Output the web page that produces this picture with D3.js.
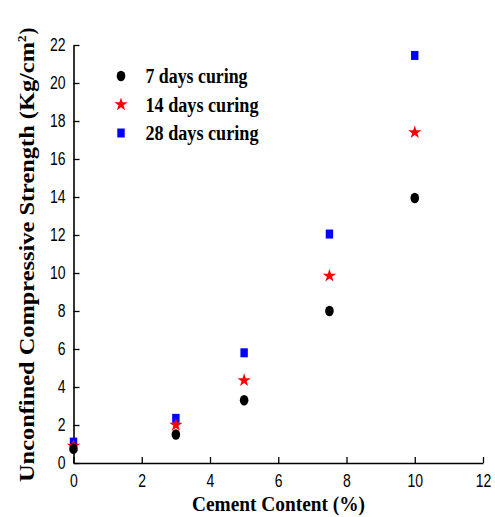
<!DOCTYPE html>
<html><head><meta charset="utf-8">
<script src="https://cdn.jsdelivr.net/npm/d3@7"></script>
<style>body{margin:0;background:#fff}svg{display:block}</style>
</head><body>
<svg id="c" width="495" height="517"></svg>
<script>
const cement = [0, 3, 5, 7.5, 10];
const days7 = [0.75, 1.5, 3.3, 8.0, 13.95];
const days14 = [0.9, 2.0, 4.35, 9.85, 17.4];
const days28 = [1.1, 2.35, 5.8, 12.05, 21.45];
const seriesNames = ["7 days curing", "14 days curing", "28 days curing"];
const xTicks = [0, 2, 4, 6, 8, 10, 12];
const yTicks = [0, 2, 4, 6, 8, 10, 12, 14, 16, 18, 20, 22];

const svg = d3.select("#c");
const x = d3.scaleLinear().domain([0, 12]).range([73.5, 483]);
const y = d3.scaleLinear().domain([0, 22]).range([463, 45]);

const xAxis = d3.axisBottom(x).tickValues(xTicks).tickSizeInner(-6).tickSizeOuter(0).tickPadding(11);
const yAxis = d3.axisLeft(y).tickValues(yTicks).tickSizeInner(-6).tickSizeOuter(0).tickPadding(8);

const gx = svg.append("g").attr("transform", `translate(0,${y(0)})`).call(xAxis);
const gy = svg.append("g").attr("transform", `translate(${x(0)},0)`).call(yAxis);
[gx, gy].forEach(g => {
  g.select(".domain").attr("stroke", "#000").attr("stroke-width", 1.6);
  g.selectAll(".tick line").attr("stroke", "#000").attr("stroke-width", 1.3);
  g.selectAll(".tick text").attr("fill", "#000")
    .style("font-family", "Liberation Sans, Arial, sans-serif").style("font-size", "18px")
    .attr("textLength", d => String(d).length * 7.8).attr("lengthAdjust", "spacingAndGlyphs");
});

const data = [
  {name: seriesNames[0], vals: days7, type: "circle", color: "#000", w: 102},
  {name: seriesNames[1], vals: days14, type: "star", color: "#ff0000", w: 113},
  {name: seriesNames[2], vals: days28, type: "square", color: "#0000ff", w: 113}
];
const star = d3.symbol().type(d3.symbolStar).size(55);

function drawMarker(g, type, color, cx, cy) {
  if (type === "circle") {
    g.append("ellipse").attr("cx", cx).attr("cy", cy).attr("rx", 4.3).attr("ry", 5.2).attr("fill", color);
  } else if (type === "star") {
    g.append("path").attr("d", star()).attr("transform", `translate(${cx},${cy})`).attr("fill", color);
  } else {
    g.append("rect").attr("x", cx - 3.7).attr("y", cy - 4.5).attr("width", 7.4).attr("height", 9).attr("fill", color);
  }
}

const marks = svg.append("g");
[data[2], data[1], data[0]].forEach(s => {
  s.vals.forEach((v, i) => drawMarker(marks, s.type, s.color, x(cement[i]), y(v)));
});

const serif = "Liberation Serif, Times New Roman, serif";
const leg = svg.append("g");
data.forEach((s, i) => {
  const ly = 76 + i * 28.5;
  drawMarker(leg, s.type, s.color, 121, ly);
  leg.append("text").attr("x", 145.5).attr("y", ly + 7)
    .style("font-family", serif).style("font-weight", "bold").style("font-size", "20px")
    .attr("textLength", s.w).attr("lengthAdjust", "spacingAndGlyphs")
    .text(s.name);
});

svg.append("text").attr("x", 278.5).attr("y", 511).attr("text-anchor", "middle")
  .style("font-family", serif).style("font-weight", "bold").style("font-size", "21px")
  .attr("textLength", 173).attr("lengthAdjust", "spacingAndGlyphs")
  .text("Cement Content (%)");

const yt = svg.append("text").attr("transform", "translate(34,482) rotate(-90)").attr("text-anchor", "start")
  .style("font-family", serif).style("font-weight", "bold").style("font-size", "21px");
yt.append("tspan").attr("textLength", 440).attr("lengthAdjust", "spacingAndGlyphs").text("Unconfined Compressive Strength (Kg/cm");
yt.append("tspan").attr("dy", -8).style("font-size", "13px").text("2");
yt.append("tspan").attr("dy", 8).attr("dx", 1).text(")");
</script>
</body></html>
